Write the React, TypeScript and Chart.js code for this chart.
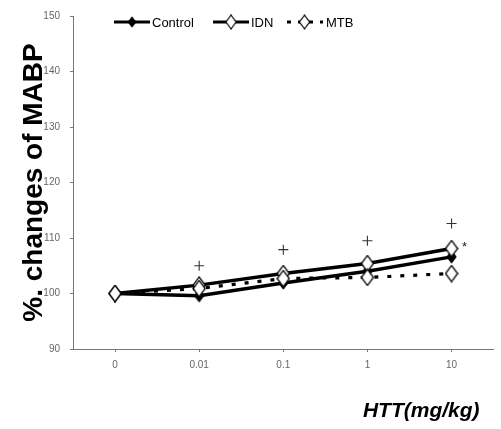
import React, { useEffect, useRef } from "react";
import { Chart, registerables } from "chart.js";
Chart.register(...registerables);

const categories = ["0", "0.01", "0.1", "1", "10"];
const controlValues = [100, 99.6, 101.9, 104.0, 106.6];
const idnValues = [100, 101.5, 103.6, 105.4, 108.1];
const mtbValues = [100, 100.9, 102.7, 102.9, 103.6];
const plusValues = [null, 105.0, 107.9, 109.5, 112.6];
const starCategory = "10";
const starValue = 108.8;
const yTicks = [90, 100, 110, 120, 130, 140, 150];
const xTitle = "HTT(mg/kg)";
const yTitle = "%. changes of MABP";

function makeDiamond(w: number, h: number, fill: string, stroke: string, lw: number) {
  const c = document.createElement("canvas");
  c.width = w;
  c.height = h;
  const ctx = c.getContext("2d")!;
  const p = lw / 2 + 0.3;
  ctx.beginPath();
  ctx.moveTo(w / 2, p);
  ctx.lineTo(w - p, h / 2);
  ctx.lineTo(w / 2, h - p);
  ctx.lineTo(p, h / 2);
  ctx.closePath();
  ctx.fillStyle = fill;
  ctx.fill();
  ctx.lineWidth = lw;
  ctx.strokeStyle = stroke;
  ctx.stroke();
  return c;
}

const legendPlugin = {
  id: "customLegend",
  afterDraw(chart: any) {
    const ctx = chart.ctx;
    const items = [
      { ds: 0, x0: 114, x1: 150, tx: 152 },
      { ds: 1, x0: 213, x1: 249, tx: 251 },
      { ds: 2, x0: 286, x1: 323, tx: 326 },
    ];
    const y = 22;
    ctx.save();
    items.forEach((it) => {
      const ds = chart.data.datasets[it.ds];
      ctx.beginPath();
      ctx.lineWidth = 3;
      ctx.strokeStyle = "#000";
      if (ds.borderDash && ds.borderDash.length) {
        ctx.setLineDash([4, 7]);
        ctx.lineDashOffset = -1;
      } else ctx.setLineDash([]);
      ctx.moveTo(it.x0, y);
      ctx.lineTo(it.x1, y);
      ctx.stroke();
      ctx.setLineDash([]);
      const img = ds.pointStyle as HTMLCanvasElement;
      const cx = (it.x0 + it.x1) / 2;
      const s = 0.85;
      ctx.drawImage(img, cx - (img.width * s) / 2, y - (img.height * s) / 2, img.width * s, img.height * s);
      ctx.fillStyle = "#000";
      ctx.font = "13px 'Liberation Sans Narrow', 'Liberation Sans', Arial";
      ctx.textBaseline = "middle";
      ctx.textAlign = "left";
      ctx.fillText(ds.label, it.tx, y + 1);
    });
    ctx.restore();
  },
};

const marksPlugin = {
  id: "extraMarks",
  afterDatasetsDraw(chart: any) {
    const ctx = chart.ctx;
    const xs = chart.scales.x;
    const ys = chart.scales.y;
    const x = xs.getPixelForValue(categories.indexOf(starCategory)) + 13;
    const y = ys.getPixelForValue(starValue);
    ctx.save();
    ctx.fillStyle = "#222";
    ctx.font = "13px 'Liberation Sans', Arial";
    ctx.textAlign = "center";
    ctx.textBaseline = "middle";
    ctx.fillText("*", x, y + 3);
    ctx.fillStyle = "#000";
    ctx.font = "italic bold 21px 'Liberation Sans', Arial";
    ctx.textAlign = "right";
    ctx.fillText(xTitle, chart.chartArea.right - 14, 411);
    ctx.restore();
  },
};

export default function App() {
  const ref = useRef<HTMLCanvasElement>(null);
  useEffect(() => {
    const filled = makeDiamond(11, 14, "#000", "#000", 1);
    const open = makeDiamond(14, 18, "#fff", "#000", 1.3);
    const open2 = makeDiamond(14, 18, "#fff", "#000", 1.3);
    const chart = new Chart(ref.current!, {
      type: "line",
      data: {
        labels: categories,
        datasets: [
          {
            label: "Control",
            data: controlValues,
            borderColor: "#000",
            borderWidth: 3.4,
            pointStyle: filled as any,
            order: 3,
          },
          {
            label: "IDN",
            data: idnValues,
            borderColor: "#000",
            borderWidth: 3.4,
            pointStyle: open as any,
            order: 2,
          },
          {
            label: "MTB",
            data: mtbValues,
            borderColor: "#000",
            borderWidth: 3.2,
            borderDash: [4, 9],
            pointStyle: open2 as any,
            order: 1,
          },
          {
            label: "",
            data: plusValues as any,
            showLine: false,
            pointStyle: "cross",
            pointRadius: 5,
            borderColor: "#333",
            borderWidth: 1.1,
            order: 0,
          },
        ],
      },
      options: {
        responsive: false,
        animation: false,
        layout: { padding: { top: 13, right: 4, left: 0, bottom: 0 } },
        plugins: { legend: { display: false }, tooltip: { enabled: false } },
        scales: {
          x: {
            offset: true,
            afterFit: (s: any) => {
              s.height = 80;
            },
            grid: { display: true, drawOnChartArea: false, tickLength: 3, color: "#777" },
            border: { color: "#777", width: 1 },
            ticks: {
              color: "#666",
              padding: 7,
              font: { family: "'Liberation Sans Narrow', 'Liberation Sans', Arial", size: 10 },
            },
          },
          y: {
            min: 90,
            max: 150,
            afterFit: (s: any) => {
              s.width = 73;
            },
            afterBuildTicks: (s: any) => {
              s.ticks = yTicks.map((v) => ({ value: v }));
            },
            grid: { display: true, drawOnChartArea: false, tickLength: 3, color: "#777" },
            border: { color: "#777", width: 1 },
            ticks: {
              color: "#666",
              padding: 10,
              font: { family: "'Liberation Sans Narrow', 'Liberation Sans', Arial", size: 10 },
            },
            title: {
              display: true,
              text: yTitle,
              color: "#000",
              padding: { top: 17, bottom: 0 },
              font: { family: "'Liberation Sans', Arial", size: 28, weight: "bold" },
            },
          },
        },
      },
      plugins: [legendPlugin, marksPlugin],
    });
    return () => chart.destroy();
  }, []);
  return (
    <div style={{ position: "fixed", left: 0, top: 0, width: 501, height: 429, background: "#fff" }}>
      <canvas ref={ref} width={501} height={429} />
    </div>
  );
}
